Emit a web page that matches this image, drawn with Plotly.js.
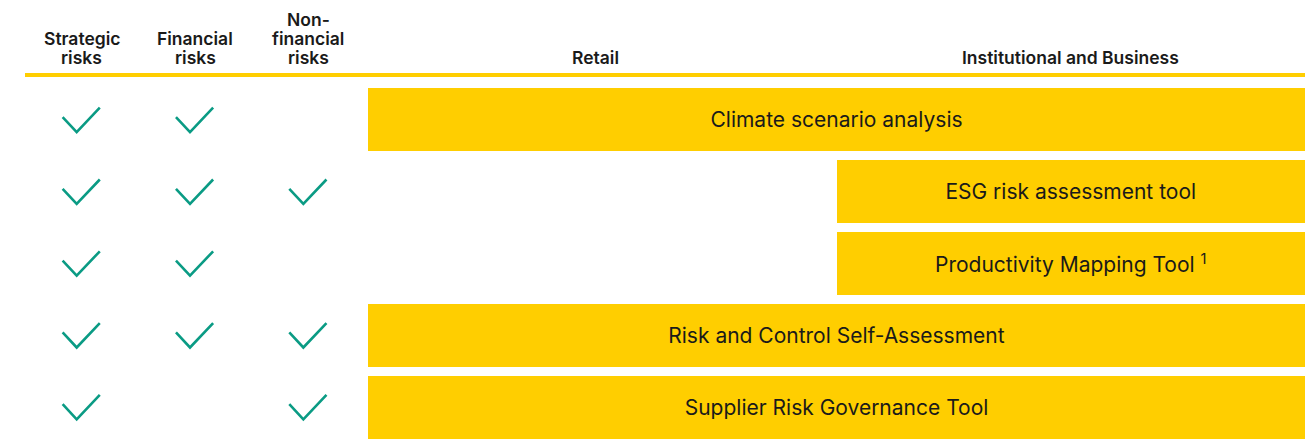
<!DOCTYPE html>
<html>
<head>
<meta charset="utf-8">
<script src="https://cdn.plot.ly/plotly-3.0.1.min.js"></script>
<style>html,body{margin:0;padding:0;background:#fff;}#chart{width:1313px;height:446px;}</style>
</head>
<body>
<div id="chart"></div>
<script>
// ---- data ----
var riskColumns = ["Strategic<br>risks", "Financial<br>risks", "Non-<br>financial<br>risks"];
var businessColumns = ["Retail", "Institutional and Business"];
var tools = ["Climate scenario analysis", "ESG risk assessment tool", "Productivity Mapping Tool <sup>1</sup>", "Risk and Control Self-Assessment", "Supplier Risk Governance Tool"];
var strategicRisks = [1, 1, 1, 1, 1];
var financialRisks = [1, 1, 1, 1, 0];
var nonFinancialRisks = [0, 1, 0, 1, 1];
var segmentStart = [0, 1, 1, 0, 0];   // 0 = Retail, 1 = Institutional and Business
var segmentSpan = [2, 1, 1, 2, 2];

// ---- build ----
var W = 1313, H = 446;
var YELLOW = "#FFCE00", TEAL = "#0A9B84", INK = "#1A1A1A";
var FONT = "Inter, Roboto, sans-serif";
var rows = tools.map(function (_, i) { return i; });

var riskMatrix = [strategicRisks, financialRisks, nonFinancialRisks];
var cx = [], cy = [];
var chk = [[-0.168, -0.04], [-0.044, 0.17], [0.16, -0.17]];
riskMatrix.forEach(function (col, c) {
  col.forEach(function (v, r) {
    if (!v) return;
    chk.forEach(function (p) { cx.push(c + p[0]); cy.push(r + p[1]); });
    cx.push(null); cy.push(null);
  });
});

var traces = [
  {
    type: "bar", orientation: "h",
    x: segmentSpan, base: segmentStart, y: rows,
    xaxis: "x2", yaxis: "y",
    width: 0.88,
    marker: {color: YELLOW, line: {width: 0}},
    text: tools, textposition: "inside", insidetextanchor: "middle",
    textangle: 0, constraintext: "none",
    textfont: {family: FONT, size: 21, color: INK},
    hoverinfo: "skip"
  },
  {
    type: "scatter", mode: "lines",
    x: cx, y: cy, xaxis: "x", yaxis: "y",
    line: {color: TEAL, width: 2.6},
    hoverinfo: "skip", connectgaps: false
  }
];

function px2paperX(p) { return p / W; }
function px2paperY(p) { return 1 - p / H; }

var HEAD_BOTTOM = 58, LINE_STEP = 19.5;
var headFont = {family: FONT, size: 17.5, color: INK, weight: 600};
var annotations = [];
function addHeader(text, xref, x, xshift) {
  var lines = text.split("<br>");
  lines.forEach(function (ln, k) {
    var fromBottom = lines.length - 1 - k;
    annotations.push({
      text: ln, xref: xref, yref: "paper", x: x, xshift: xshift || 0,
      y: px2paperY(HEAD_BOTTOM - fromBottom * LINE_STEP),
      xanchor: "center", yanchor: "middle", showarrow: false,
      font: headFont, align: "center"
    });
  });
}
riskColumns.forEach(function (t, i) { addHeader(t, "x", i); });
businessColumns.forEach(function (t, i) { addHeader(t, "x2", i + 0.5, i === 0 ? -7 : 0); });

var layout = {
  width: W, height: H,
  margin: {l: 0, r: 0, t: 0, b: 0},
  paper_bgcolor: "#fff", plot_bgcolor: "rgba(0,0,0,0)",
  showlegend: false,
  bargap: 0,
  xaxis: {domain: [px2paperX(25), px2paperX(365)], range: [-0.5, 2.5], visible: false, fixedrange: true},
  xaxis2: {domain: [px2paperX(368), px2paperX(1305)], range: [0, 2], visible: false, anchor: "y", fixedrange: true},
  yaxis: {domain: [px2paperY(443), px2paperY(84)], range: [4.5, -0.5], visible: false, fixedrange: true},
  shapes: [{
    type: "line", xref: "paper", yref: "paper",
    x0: px2paperX(25), x1: px2paperX(1305), y0: px2paperY(75), y1: px2paperY(75),
    line: {color: YELLOW, width: 4}
  }],
  annotations: annotations
};

Plotly.newPlot("chart", traces, layout, {displayModeBar: false, staticPlot: true});
</script>
</body>
</html>
